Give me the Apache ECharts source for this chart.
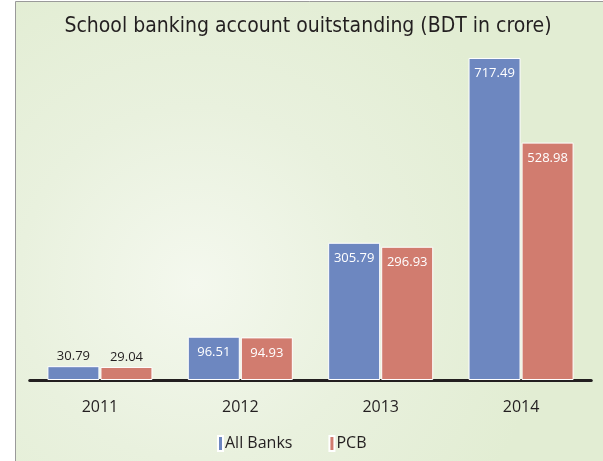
<!DOCTYPE html>
<html>
<head>
<meta charset="utf-8">
<script src="https://cdn.jsdelivr.net/npm/echarts@6/dist/echarts.min.js"></script>
<style>
  html, body { margin: 0; padding: 0; background: #ffffff; }
  #chart { width: 603px; height: 461px; }
</style>
</head>
<body>
<div id="chart"></div>
<script>
const years = ['2011', '2012', '2013', '2014'];
const allBanks = [30.79, 96.51, 305.79, 717.49];
const pcb = [29.04, 94.93, 296.93, 528.98];
const seriesNames = ['All Banks', 'PCB'];

const myChart = echarts.init(document.getElementById('chart'), null, {renderer: 'canvas'});

// small bars keep their label above, the taller ones carry it inside in white
function labelFor(value) {
    if (value < 60) {
        return {position: 'top', distance: 3, color: '#231f20'};
    }
    return {position: 'insideTop', distance: 9, color: '#ffffff'};
}

function barData(values) {
    return values.map(function (v) {
        return {value: v, label: labelFor(v)};
    });
}

const option = {
    animation: false,
    graphic: [
        {
            type: 'rect',
            z: -10,
            silent: true,
            shape: {x: 15.5, y: 1.5, width: 600, height: 470},
            style: {
                fill: new echarts.graphic.RadialGradient(0.3, 0.6, 0.75, [
                    {offset: 0, color: '#f4f8ee'},
                    {offset: 0.5, color: '#e9f1de'},
                    {offset: 1, color: '#e2edd3'}
                ]),
                stroke: '#9a9a9a',
                lineWidth: 1
            }
        }
    ],
    title: {
        text: 'School banking account ouitstanding (BDT in crore)',
        left: 303,
        textAlign: 'center',
        top: 11,
        textStyle: {
            fontFamily: '"DejaVu Sans Condensed", "Roboto", sans-serif',
            fontSize: 21,
            fontWeight: 'normal',
            color: '#231f20'
        }
    },
    legend: {
        data: seriesNames,
        bottom: 4,
        left: 212,
        itemWidth: 5,
        itemHeight: 15,
        itemGap: 36,
        icon: 'rect',
        textStyle: {
            fontFamily: 'Open Sans',
            fontSize: 16,
            color: '#231f20',
            padding: [0, 0, 0, -3]
        }
    },
    grid: {
        left: 29.75,
        right: 11.75,
        top: 21,
        bottom: 81
    },
    xAxis: {
        type: 'category',
        data: years,
        axisTick: {show: false},
        axisLine: {
            show: true,
            lineStyle: {color: '#231f20', width: 3}
        },
        axisLabel: {
            margin: 19,
            fontFamily: 'Open Sans',
            fontSize: 16,
            color: '#231f20'
        }
    },
    yAxis: {
        type: 'value',
        min: 0,
        max: 800,
        show: false,
        splitLine: {show: false}
    },
    series: [
        {
            name: seriesNames[0],
            type: 'bar',
            data: barData(allBanks),
            barWidth: 52,
            barGap: '2%',
            itemStyle: {color: '#6d87c0', borderColor: '#ffffff', borderWidth: 1},
            label: {
                show: true,
                fontFamily: 'Open Sans',
                fontSize: 13
            }
        },
        {
            name: seriesNames[1],
            type: 'bar',
            data: barData(pcb),
            barWidth: 52,
            itemStyle: {color: '#d17c6f', borderColor: '#ffffff', borderWidth: 1},
            label: {
                show: true,
                fontFamily: 'Open Sans',
                fontSize: 13
            }
        }
    ]
};

myChart.setOption(option);
</script>
</body>
</html>
